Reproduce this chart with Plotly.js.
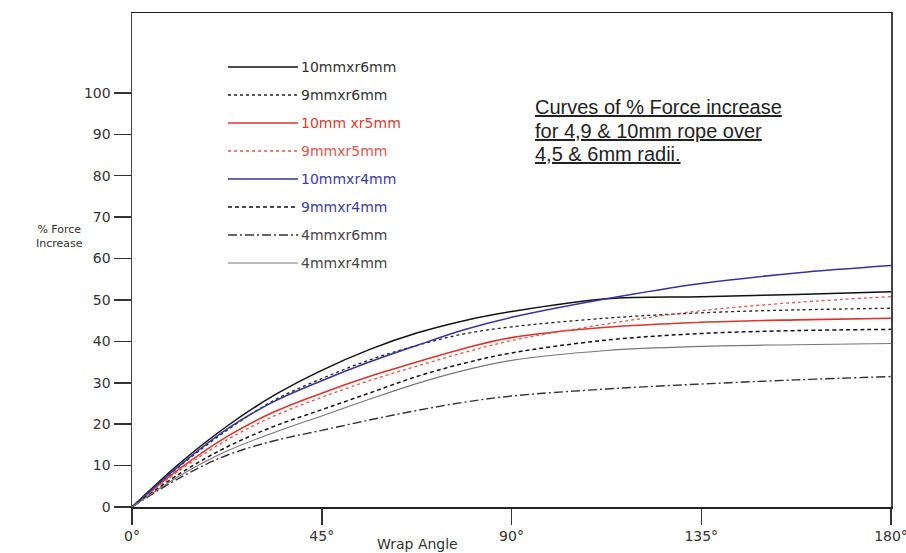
<!DOCTYPE html>
<html><head><meta charset="utf-8">
<script src="https://cdn.plot.ly/plotly-3.0.1.min.js"></script>
<style>html,body{margin:0;padding:0;background:#fff}#chart{width:906px;height:553px}</style>
</head><body><div id="chart"></div>
<script>
// Wrap angle (degrees)
const angles = [0, 11.25, 22.5, 33.75, 45, 56.25, 67.5, 78.75, 90, 112.5, 135, 157.5, 180];
// % Force increase per rope/radius combination
const s10x6 = [0, 10.5, 19.5, 27.0, 33.0, 38.0, 42.0, 45.0, 47.2, 50.3, 50.8, 51.3, 52.0];
const s9x6  = [0, 9.8, 18.5, 25.8, 31.0, 35.5, 39.0, 41.8, 43.5, 45.6, 46.9, 47.6, 48.0];
const s10x5 = [0, 9.2, 17.0, 23.0, 27.5, 31.5, 35.0, 38.3, 40.9, 43.4, 44.6, 45.2, 45.6];
const s9x5  = [0, 8.8, 16.2, 22.0, 26.5, 30.5, 34.0, 37.3, 40.2, 44.2, 47.4, 49.4, 50.8];
const s10x4 = [0, 10.0, 18.8, 25.5, 30.5, 35.0, 39.0, 42.8, 45.8, 50.3, 54.0, 56.5, 58.3];
const s9x4  = [0, 8.0, 14.5, 19.5, 23.5, 27.5, 31.5, 34.7, 37.2, 40.3, 41.9, 42.6, 42.9];
const s4x6  = [0, 7.0, 12.5, 16.0, 18.5, 21.0, 23.3, 25.3, 26.8, 28.5, 29.7, 30.7, 31.5];
const s4x4  = [0, 7.5, 13.5, 18.0, 22.0, 26.0, 29.8, 33.0, 35.4, 37.8, 38.8, 39.2, 39.5];

const seriesNames = ['10mmxr6mm', '9mmxr6mm', '10mm xr5mm', '9mmxr5mm', '10mmxr4mm', '9mmxr4mm', '4mmxr6mm', '4mmxr4mm'];
const seriesValues = [s10x6, s9x6, s10x5, s9x5, s10x4, s9x4, s4x6, s4x4];

const xTickVals = [0, 45, 90, 135, 180];
const xTickText = ['0°', '45°', '90°', '135°', '180°'];
const yTickVals = [0, 10, 20, 30, 40, 50, 60, 70, 80, 90, 100];

const noteLines = ['Curves of % Force increase', 'for 4,9 &amp; 10mm rope over', '4,5 &amp; 6mm radii.'];

// styles
const lineColors = ['#111111', '#222222', '#d8362c', '#e0574f', '#34349a', '#111111', '#333333', '#777777'];
const labelColors = ['#333333', '#333333', '#e03a30', '#e0574f', '#3c3ca0', '#3c3ca0', '#444444', '#444444'];
const lineDashes = ['solid', '3px,3px', 'solid', '3px,3px', 'solid', '4px,3px', '9px,3px,2px,3px', 'solid'];
const lineWidths = [1.5, 1.3, 1.6, 1.3, 1.5, 1.5, 1.4, 1.1];

const FONT = 'DejaVu Sans, Liberation Sans, Arial, sans-serif';

const traces = seriesNames.map((n, i) => ({
  type: 'scatter', mode: 'lines', name: n,
  x: angles, y: seriesValues[i],
  line: {color: lineColors[i], dash: lineDashes[i], width: lineWidths[i], shape: 'spline', smoothing: 1},
  showlegend: false, hoverinfo: 'x+y+name'
}));

// plot area geometry in pixels (for legend placement)
const L = 132, T = 13, W = 759, H = 494;
const px = x => (x - L) / W;
const py = y => (T + H - y) / H;

const shapes = [];
const annotations = [];
seriesNames.forEach((n, i) => {
  const yPix = 67 + i * 28;
  shapes.push({type: 'line', xref: 'paper', yref: 'paper', x0: px(228), x1: px(298), y0: py(yPix), y1: py(yPix),
    line: {color: lineColors[i], dash: lineDashes[i], width: lineWidths[i]}});
  annotations.push({xref: 'paper', yref: 'paper', x: px(299), y: py(yPix), xanchor: 'left', yanchor: 'middle',
    text: n, showarrow: false, font: {family: FONT, size: 14, color: labelColors[i]}});
});

noteLines.forEach((t, i) => {
  annotations.push({xref: 'paper', yref: 'paper', x: px(534), y: py(107 + i * 23.5), xanchor: 'left', yanchor: 'middle',
    align: 'left', text: '<u>' + t + '</u>', showarrow: false, borderpad: 0,
    font: {family: 'Liberation Sans, Arial, sans-serif', size: 20, color: '#222'}});
});

annotations.push({xref: 'paper', yref: 'paper', x: px(417), y: py(544), xanchor: 'center', yanchor: 'middle',
  text: 'Wrap Angle', showarrow: false, font: {family: FONT, size: 14, color: '#333'}});

annotations.push({xref: 'paper', yref: 'paper', x: px(59), y: py(236), xanchor: 'center', yanchor: 'middle', align: 'center',
  text: '% Force<br>Increase', showarrow: false, font: {family: FONT, size: 11, color: '#333'}});

const layout = {
  width: 906, height: 553,
  margin: {l: L, r: 906 - L - W, t: T, b: 553 - T - H, pad: 0},
  paper_bgcolor: '#ffffff', plot_bgcolor: '#ffffff',
  showlegend: false,
  font: {family: FONT, size: 14, color: '#333'},
  xaxis: {range: [0, 180], tickvals: xTickVals, ticktext: xTickText, ticks: 'outside', ticklen: 16, tickwidth: 1.5,
    tickcolor: '#333', showline: true, mirror: true, linecolor: '#222', linewidth: 1.5, showgrid: false, zeroline: false,
    ticklabeloverflow: 'allow',
    tickfont: {family: FONT, size: 14, color: '#333'}, fixedrange: true},
  yaxis: {range: [0, 119.3], tickvals: yTickVals, ticks: 'outside', ticklen: 17, tickwidth: 1.5,
    tickcolor: '#333', showline: true, mirror: true, linecolor: '#444', linewidth: 1.5, showgrid: false, zeroline: false,
    tickfont: {family: FONT, size: 14, color: '#333'}, fixedrange: true},
  shapes: shapes,
  annotations: annotations
};

Plotly.newPlot('chart', traces, layout, {displayModeBar: false, staticPlot: true});
</script>
</body></html>
